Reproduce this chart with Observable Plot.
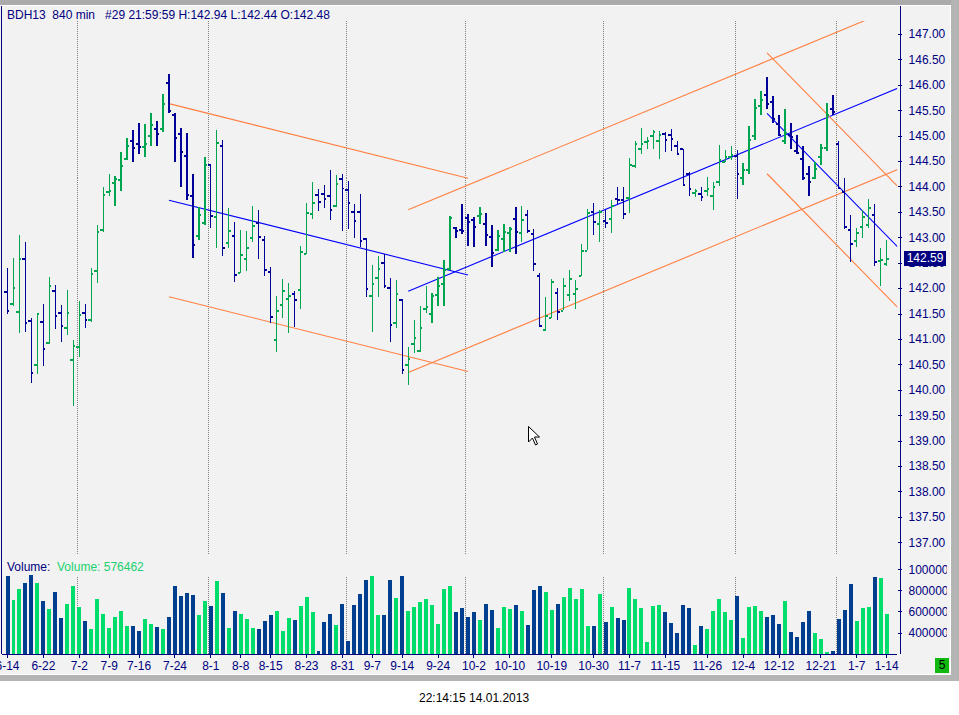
<!DOCTYPE html>
<html><head><meta charset="utf-8">
<script src="https://cdn.jsdelivr.net/npm/d3@7"></script>
<script src="https://cdn.jsdelivr.net/npm/@observablehq/plot@0.6"></script>
<style>
body{margin:0;background:#fff;font-family:"Liberation Sans",Arial,sans-serif;}
#wrap{position:relative;width:959px;height:715px;overflow:hidden;background:#fff;}
.abs{position:absolute;}
#topbar{left:0;top:0;width:959px;height:5px;background:#ababab;}
#panel{left:0;top:6px;width:950px;height:668px;background:#f2f2f2;}
#rightbar{left:951px;top:0;width:8px;height:681px;background:#b4b4b4;}
#botbar{left:0;top:675px;width:959px;height:6px;background:#b4b4b4;}
#leftline{left:1px;top:6px;width:1px;height:648px;background:#000080;}
#raxis{left:900px;top:6px;width:1px;height:648px;background:#000080;}
#title{left:7px;top:8px;font-size:12px;line-height:14px;color:#000080;white-space:pre;}
#vlab{left:7px;top:560px;font-size:12px;line-height:14px;white-space:pre;}
#stamp{left:419px;top:691px;font-size:12px;line-height:14px;color:#000;}
#five{left:935px;top:658px;width:14px;height:15px;background:#10b810;color:#000;font-size:12px;line-height:15px;text-align:center;}
#tag{left:904px;width:42px;height:15px;background:#000080;color:#fff;font-size:12px;line-height:15px;text-align:center;}
.clip{position:absolute;left:0;width:947px;overflow:hidden;}
</style></head>
<body>
<div id="wrap">
  <div id="topbar" class="abs"></div>
  <div id="panel" class="abs"></div>
  <div id="rightbar" class="abs"></div>
  <div id="botbar" class="abs"></div>
  <div id="pricebox" class="clip" style="top:21px;height:536px;"></div>
  <div id="volbox" class="clip" style="top:557px;height:120px;"></div>
  <div id="leftline" class="abs"></div>
  <div id="raxis" class="abs"></div>
  <div id="title" class="abs">BDH13  840 min   #29 21:59:59 H:142.94 L:142.44 O:142.48</div>
  <div id="vlab" class="abs"><span style="color:#000080">Volume:</span>  <span style="color:#20d070">Volume: 576462</span></div>
  <div id="stamp" class="abs">22:14:15 14.01.2013</div>
  <div id="five" class="abs">5</div>
  <div id="tag" class="abs">142.59</div>
  <svg class="abs" style="left:528px;top:426px" width="13" height="21"><polygon points="0.5,0.5 0.5,16 4.5,12 7.5,19 9.5,18 6.5,11 11.5,11" fill="#fff" stroke="#000" stroke-width="1"/></svg>
</div>
<script>
// ---- data (bar index 0..147, 840-min bars, 6-14 .. 1-14) ----
const open = [141.93,141.70,141.54,142.58,141.37,140.50,141.35,140.93,141.95,141.52,141.23,140.60,140.86,141.52,141.39,142.35,143.15,143.90,144.07,144.13,
144.56,144.90,144.84,144.78,145.01,145.15,145.15,146.05,145.41,145.05,144.61,143.82,143.03,143.29,144.44,143.40,144.80,142.90,143.03,142.31,
142.58,142.99,143.29,142.95,142.33,140.99,141.68,141.80,141.89,141.97,142.68,143.46,143.84,143.86,143.82,143.62,144.15,143.95,143.50,143.50,
142.97,141.86,142.21,142.50,142.01,141.33,141.78,140.50,140.92,140.78,141.60,141.51,141.88,142.09,142.39,143.19,143.16,143.39,143.35,143.42,
143.27,143.01,142.76,142.98,143.09,143.37,143.09,143.45,143.08,142.25,141.18,141.43,141.92,141.57,141.88,141.90,142.25,142.75,143.50,143.27,
143.33,143.37,143.76,143.74,143.78,144.41,144.74,144.89,145.01,144.90,145.04,145.03,144.80,144.74,144.25,143.88,143.86,143.92,143.82,144.09,
144.49,144.58,144.61,144.17,144.33,145.01,145.60,145.80,145.67,145.24,144.90,145.03,144.71,144.56,144.25,144.17,144.58,144.76,145.54,144.84,
143.90,143.16,142.94,143.22,143.25,143.45,142.55,142.48];
const high = [142.39,142.59,143.04,142.90,141.41,141.52,141.69,142.22,142.06,141.67,141.96,140.98,141.75,141.69,142.39,143.24,143.98,144.24,144.20,144.67,
144.96,145.12,145.25,145.22,145.44,145.29,145.82,146.22,145.45,145.16,145.06,144.24,143.60,144.57,144.44,145.12,144.92,143.58,143.31,143.14,
143.12,143.61,143.53,143.03,142.41,141.84,142.18,142.11,141.95,142.83,143.67,144.08,143.95,144.02,144.33,144.22,144.25,144.10,143.65,143.86,
142.99,142.46,142.63,142.68,142.20,142.16,141.78,140.84,141.37,141.65,142.05,141.91,142.21,142.55,143.42,143.21,143.65,143.45,143.40,143.60,
143.48,143.24,143.14,143.27,143.21,143.59,143.61,143.54,143.16,142.29,141.82,142.18,142.01,142.19,142.35,142.16,142.86,143.56,143.68,143.54,
143.53,143.73,143.99,143.99,144.56,144.89,145.16,144.97,145.12,145.09,145.07,145.14,144.90,144.74,144.28,143.95,143.99,144.19,144.09,144.82,
144.71,144.80,144.72,144.46,145.18,145.73,145.88,146.16,145.77,145.41,145.52,145.24,145.01,144.79,144.40,144.48,144.84,145.64,145.80,144.90,
144.16,143.44,143.19,143.53,143.76,143.65,142.78,142.94];
const low = [141.49,141.65,141.11,141.14,140.14,140.32,140.47,140.90,141.20,140.95,141.07,139.69,140.65,141.22,141.34,142.10,143.10,143.81,143.61,143.91,
144.53,144.48,144.63,144.58,144.79,144.79,145.08,145.44,144.48,143.99,143.73,142.59,142.95,143.24,143.19,142.79,142.63,142.78,142.12,142.29,
142.33,142.91,142.57,142.24,141.31,140.75,141.41,141.11,141.23,141.59,142.68,143.37,143.52,143.58,143.35,143.59,143.13,143.16,142.98,142.80,
141.83,141.13,141.83,142.00,140.95,141.21,140.31,140.10,140.72,140.74,141.51,141.31,141.65,141.65,142.36,142.98,143.07,142.83,142.81,143.26,
142.83,142.42,142.73,142.72,142.72,142.67,142.90,143.09,142.34,141.26,141.15,141.41,141.38,141.57,141.75,141.58,142.24,142.75,143.05,142.90,
143.19,143.09,143.65,143.37,143.47,144.37,144.64,144.73,144.73,144.54,144.67,144.69,144.61,144.02,143.82,143.80,143.71,143.82,143.54,144.01,
144.48,144.53,143.76,144.03,144.25,144.92,145.41,145.53,145.25,145.00,144.84,144.73,144.63,144.12,143.81,144.14,144.43,144.69,145.41,143.95,
143.16,142.52,142.80,142.99,143.19,142.44,142.05,142.44];
const close = [141.56,142.01,142.58,141.33,140.35,141.50,140.82,142.05,141.46,141.27,141.52,140.88,141.48,141.39,142.29,143.11,143.84,143.92,144.15,144.41,
144.80,144.76,144.78,144.84,145.21,145.05,145.64,145.50,144.97,144.68,143.84,142.86,143.44,144.44,143.42,144.86,142.80,143.14,142.27,142.66,
142.80,143.23,143.01,142.37,141.44,141.56,141.95,141.86,141.78,142.72,143.48,143.68,143.70,143.76,143.54,144.05,143.97,143.68,143.33,142.94,
141.99,142.09,142.39,142.05,141.29,141.89,140.40,140.62,141.03,141.22,141.63,141.85,142.06,142.37,143.39,143.13,143.13,143.31,143.22,143.46,
143.05,142.70,143.03,143.11,143.18,143.11,143.35,143.14,142.49,141.26,141.46,142.13,141.54,142.05,142.19,141.99,142.74,143.48,143.31,143.50,
143.30,143.63,143.74,143.46,144.43,144.84,144.84,144.90,145.09,145.02,144.92,144.95,144.64,144.03,143.96,143.92,143.81,143.96,143.99,144.53,
144.58,144.63,144.25,144.33,144.93,145.56,145.71,145.64,145.33,145.03,145.07,144.98,144.66,144.17,144.09,144.35,144.76,145.41,145.48,143.97,
143.22,142.88,143.09,143.40,143.58,142.52,142.56,142.59];
const volume = [937000,710000,814000,871000,947000,871000,700000,625000,786000,539000,672000,843000,644000,511000,435000,719000,577000,445000,549000,606000,
463000,463000,416000,530000,482000,454000,435000,549000,843000,748000,776000,757000,568000,700000,653000,890000,776000,445000,606000,577000,
530000,445000,435000,511000,568000,606000,416000,539000,520000,653000,738000,596000,227000,501000,577000,473000,672000,321000,663000,767000,
900000,937000,568000,568000,900000,729000,937000,606000,644000,691000,719000,663000,482000,814000,843000,596000,634000,549000,596000,520000,
672000,615000,445000,644000,625000,663000,606000,473000,805000,843000,786000,615000,672000,738000,824000,719000,814000,463000,463000,767000,
501000,644000,539000,520000,824000,719000,634000,312000,653000,663000,596000,492000,397000,663000,634000,283000,463000,435000,606000,719000,
596000,520000,748000,350000,644000,653000,606000,549000,568000,482000,700000,406000,359000,501000,606000,397000,340000,217000,227000,530000,
615000,862000,511000,634000,644000,928000,918000,576462];

// date ticks (bar index -> label)
const tickIdx    = [0,6,12,17,22,28,34,39,44,50,56,61,66,72,78,84,91,98,104,110,117,123,129,136,142,147];
const tickLabels = ["6-14","6-22","7-2","7-9","7-16","7-24","8-1","8-8","8-15","8-23","8-31","9-7","9-14","9-24","10-2","10-10","10-19","10-30","11-7","11-15","11-26","12-4","12-12","12-21","1-7","1-14"];
// first bar of each month (dotted separators)
const monthStart = [12,34,57,77,100,122,139];
// price ticks
const priceTicks = d3.range(137, 147.001, 0.5);
const volTicks = [400000,600000,800000,1000000];
// trend channels: regression midline from (startIdx, startMid) to (endIdx, endMid), +/- half width
const chStartIdx = [27, 67, 127];
const chEndIdx   = [77, 149, 149];
const chStartMid = [143.74, 141.95, 145.45];
const chEndMid   = [142.27, 145.95, 142.80];
const chHalf     = [1.90, 1.60, 1.19];

// ---- build ----
const upBar = "#00a550", dnBar = "#000099", upVol = "#00dd6a", dnVol = "#003f8f";
const navy = "#000080", orange = "#ff7f40", blue = "#0000ff";
const bars = close.map((c, i) => ({i, o: open[i], h: high[i], l: low[i], c, v: volume[i], up: c >= open[i]}));
const lines = [];
chStartIdx.forEach((s, k) => {
  [[0, blue], [chHalf[k], orange], [-chHalf[k], orange]].forEach(([off, col]) => {
    lines.push({x1: s, x2: chEndIdx[k], y1: chStartMid[k] + off, y2: chEndMid[k] + off, col});
  });
});
const xDomain = [-5/6, 898/6 - 5/6];
const font = "Liberation Sans, Arial, sans-serif";
const style = {background: "transparent", fontFamily: font, fontSize: "12px", overflow: "hidden"};
const crisp = "crispEdges";
const barColor = d => d.up ? upBar : dnBar;

const price = Plot.plot({
  width: 950, height: 536, marginLeft: 2, marginRight: 50, marginTop: 0, marginBottom: 0,
  style,
  x: {domain: xDomain, axis: null, label: null},
  y: {domain: [136.745, 147.255], axis: null, label: null},
  color: {type: "identity"},
  marks: [
    Plot.ruleX(monthStart, {x: d => d - 0.35, stroke: "#808080", strokeDasharray: "1,1", shapeRendering: crisp}),
    Plot.axisY(priceTicks, {anchor: "right", label: null, tickSize: 4, tickPadding: 7, tickFormat: d3.format(".2f"), color: navy, fontSize: 12, fontFamily: font, shapeRendering: crisp}),
    Plot.link(lines, {x1: "x1", x2: "x2", y1: "y1", y2: "y2", stroke: "col", strokeWidth: 1.1, clip: true}),
    Plot.ruleX(bars, {x: "i", y1: "l", y2: "h", stroke: barColor, strokeWidth: 1.3, shapeRendering: crisp}),
    Plot.ruleY(bars, {y: "o", x1: d => d.i - 0.42, x2: "i", stroke: barColor, strokeWidth: 2, shapeRendering: crisp}),
    Plot.ruleY(bars, {y: "c", x1: "i", x2: d => d.i + 0.42, stroke: barColor, strokeWidth: 2, shapeRendering: crisp})
  ]
});
document.getElementById("pricebox").appendChild(price);
const ys = price.scale("y");
document.getElementById("tag").style.top = (21 + ys.apply(close[close.length - 1]) - 7.5) + "px";

const volDomain = [200000, 1116000];
const vol = Plot.plot({
  width: 950, height: 120, marginLeft: 2, marginRight: 50, marginTop: 0, marginBottom: 23,
  style,
  x: {domain: xDomain, label: null},
  y: {domain: volDomain, label: null},
  color: {type: "identity"},
  marks: [
    Plot.ruleX(monthStart, {x: d => d - 0.35, y1: volDomain[0], y2: 940000, stroke: "#808080", strokeDasharray: "1,1", shapeRendering: crisp}),
    Plot.rect(bars, {x1: d => d.i - 0.25, x2: d => d.i + 0.4167, y1: volDomain[0], y2: "v", fill: d => d.up ? upVol : dnVol, shapeRendering: crisp}),
    Plot.ruleY([volDomain[0]], {stroke: navy, shapeRendering: crisp}),
    Plot.axisY(volTicks, {anchor: "right", label: null, tickSize: 4, tickPadding: 7, tickFormat: d3.format("d"), color: navy, fontSize: 12, fontFamily: font, shapeRendering: crisp}),
    Plot.axisX(tickIdx, {anchor: "bottom", label: null, tickSize: 4, tickPadding: 3, tickFormat: d => tickLabels[tickIdx.indexOf(d)], color: navy, fontSize: 12, fontFamily: font, shapeRendering: crisp})
  ]
});
document.getElementById("volbox").appendChild(vol);
</script>
</body></html>
